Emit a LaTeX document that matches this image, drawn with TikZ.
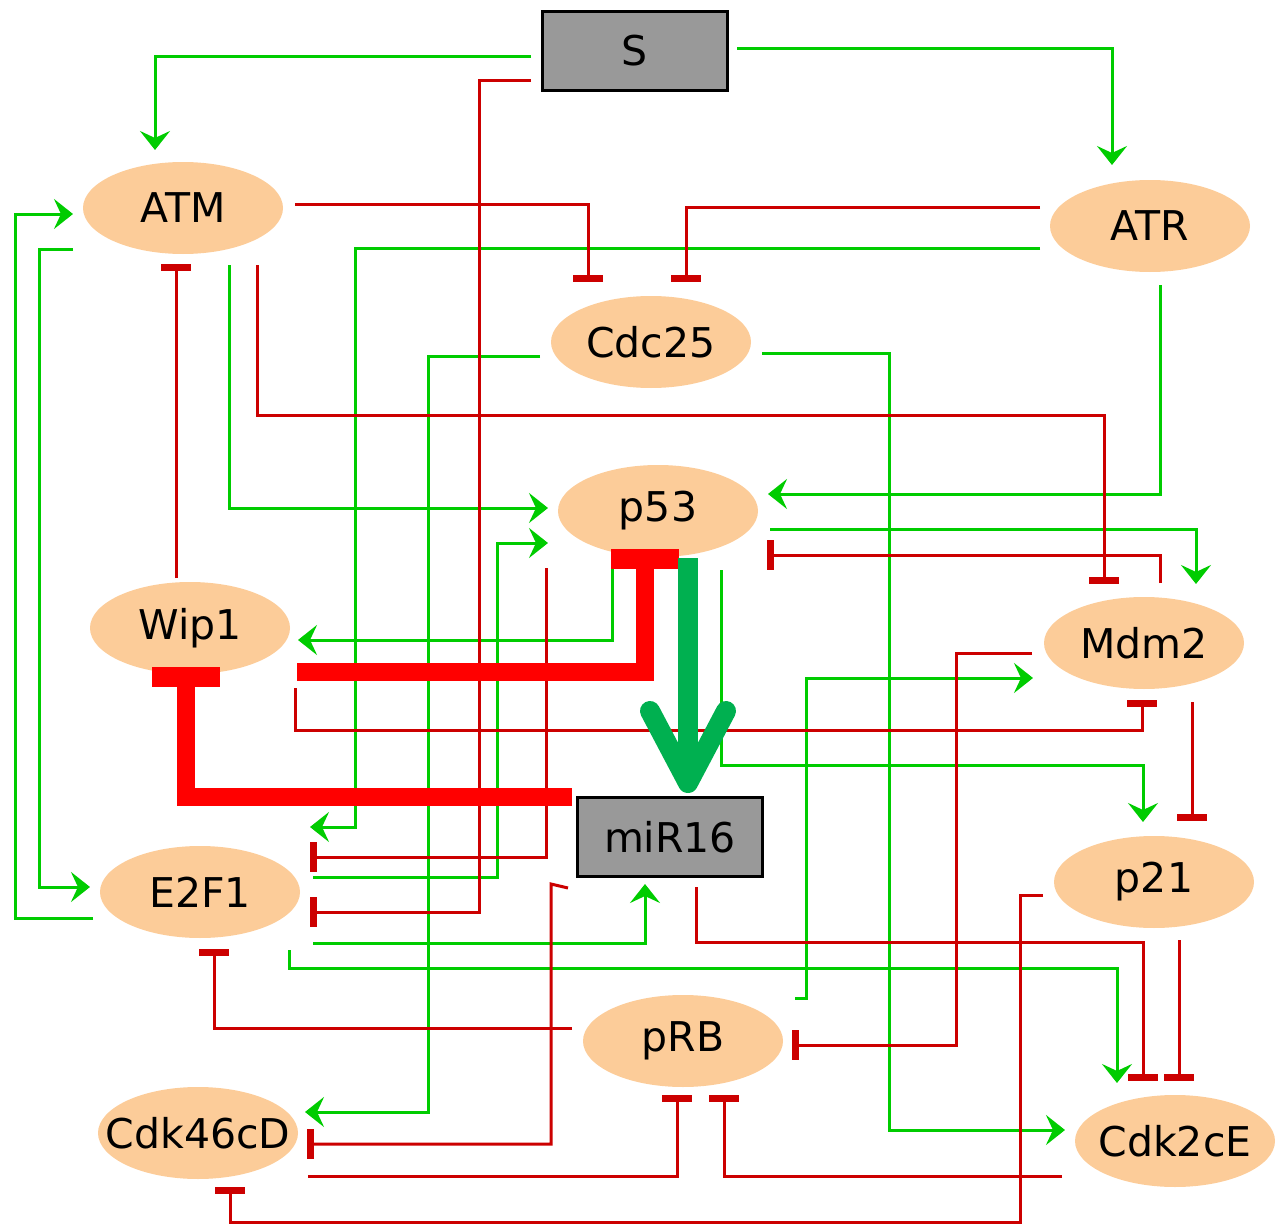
\documentclass[tikz,border=0pt]{standalone}
\usepackage{fontspec}
\setmainfont{DejaVu Sans}
\usetikzlibrary{arrows.meta,shapes.geometric}
\definecolor{peach}{RGB}{252,204,153}
\definecolor{boxgray}{RGB}{153,153,153}
\definecolor{actgreen}{RGB}{0,204,0}
\definecolor{inhred}{RGB}{204,0,0}
\definecolor{strongred}{RGB}{255,0,0}
\definecolor{stronggreen}{RGB}{0,176,80}
\begin{document}
\begin{tikzpicture}[x=0.5pt,y=-0.5pt,
  lbl/.style={font=\fontsize{20.5pt}{24pt}\selectfont},
  ell/.style={lbl, ellipse, fill=peach, minimum width=100pt, minimum height=46pt, inner sep=0pt},
  box/.style={lbl, rectangle, fill=boxgray, draw=black, line width=1.5pt, minimum width=92.5pt, minimum height=39.5pt, inner sep=0pt},
  act/.style={draw=actgreen, line width=1.5pt, -{Stealth[length=9.5pt,width=15pt,inset=3.5pt]}},
  inh/.style={draw=inhred, line width=1.5pt, -{Rectangle[length=3.5pt,width=15pt]}},
  stronginh/.style={draw=strongred, line width=9pt, line join=miter, -{Rectangle[length=10pt,width=34pt]}},
  strongact/.style={draw=stronggreen, line width=10pt, -{Straight Barb[length=36pt,width=38pt,line cap=round,line join=round]}}
]
\useasboundingbox (0,0) rectangle (1282,1226);
% nodes
\node[box] (S) at (635,51) {S};
\node[box] (miR16) at (670,837) {miR16};
\node[ell] (ATM) at (183,208) {ATM};
\node[ell] (ATR) at (1150,226) {ATR};
\node[ell] (Cdc25) at (651,342) {Cdc25};
\node[ell] (p53) at (658,511) {p53};
\node[ell] (Wip1) at (190,628) {Wip1};
\node[ell] (Mdm2) at (1144,643) {Mdm2};
\node[ell] (E2F1) at (200,892) {E2F1};
\node[ell] (p21) at (1154,882) {p21};
\node[ell] (pRB) at (683,1041) {pRB};
\node[ell] (Cdk46cD) at (198,1133) {\makebox[0pt]{Cdk46cD}};
\node[ell] (Cdk2cE) at (1175,1141) {\makebox[0pt]{Cdk2cE}};
% activating (green)
\draw[act] ([shift={(-104,5)}]S.center) -| ([shift={(-28,-58)}]ATM.center);
\draw[act] ([shift={(102,-3)}]S.center) -| ([shift={(-38,-61)}]ATR.center);
\draw[act] ([shift={(-110,22)}]ATR.center) -- (355,248) -- (355,827) -- ([shift={(110,-65)}]E2F1.center);
\draw[act] ([shift={(-111,14)}]Cdc25.center) -- (428,356) -- (428,1112) -- ([shift={(107,-21)}]Cdk46cD.center);
\draw[act] ([shift={(111,11)}]Cdc25.center) -- (889,353) -- (889,1130) -- ([shift={(-110,-11)}]Cdk2cE.center);
\draw[act] ([shift={(10,59)}]ATR.center) |- ([shift={(110,-17)}]p53.center);
\draw[act] ([shift={(46,57)}]ATM.center) |- ([shift={(-110,-3)}]p53.center);
\draw[act] ([shift={(113,-15)}]E2F1.center) -- (497,877) -- (497,543) -- ([shift={(-110,32)}]p53.center);
\draw[act] ([shift={(-46,54)}]p53.center) |- ([shift={(108,12)}]Wip1.center);
\draw[act] ([shift={(112,18)}]p53.center) -| ([shift={(52,-59)}]Mdm2.center);
\draw[act] ([shift={(63,59)}]p53.center) -- (721,765) -| ([shift={(-11,-60)}]p21.center);
\draw[act] ([shift={(112,-43)}]pRB.center) -- (806,998) -- (806,678) -- ([shift={(-111,35)}]Mdm2.center);
\draw[act] ([shift={(113,51)}]E2F1.center) -| ([shift={(-25,47)}]miR16.center);
\draw[act] ([shift={(89,58)}]E2F1.center) -- (289,968) -| ([shift={(-58,-58)}]Cdk2cE.center);
\draw[act] ([shift={(-107,26)}]E2F1.center) -- (15,918) |- ([shift={(-110,6)}]ATM.center);
\draw[act] ([shift={(-110,41)}]ATM.center) -- (39,249) |- ([shift={(-110,-5)}]E2F1.center);
% inhibiting (red)
\draw[inh] ([shift={(-104,29)}]S.center) -- (479,80) |- ([shift={(110,20)}]E2F1.center);
\draw[inh] ([shift={(112,-4)}]ATM.center) -| ([shift={(-63,-60)}]Cdc25.center);
\draw[inh] ([shift={(-110,-19)}]ATR.center) -| ([shift={(35,-60)}]Cdc25.center);
\draw[inh] ([shift={(74,57)}]ATM.center) -- (257,415) -| ([shift={(-40,-59)}]Mdm2.center);
\draw[inh] ([shift={(-14,-50)}]Wip1.center) -- ([shift={(-7,56)}]ATM.center);
\draw[inh] ([shift={(16,-60)}]Mdm2.center) |- ([shift={(109,44)}]p53.center);
\draw[inh] ([shift={(-112,10)}]Mdm2.center) -- (956,653) |- ([shift={(109,4)}]pRB.center);
\draw[inh] ([shift={(48,59)}]Mdm2.center) -- ([shift={(38,-61)}]p21.center);
\draw[inh] ([shift={(105,60)}]Wip1.center) -- (295,730) -| ([shift={(-2,57)}]Mdm2.center);
\draw[inh] ([shift={(-111,-13)}]pRB.center) -| ([shift={(14,57)}]E2F1.center);
\draw[inh] ([shift={(-102,51)}]miR16.center) -- (551,884) |- ([shift={(109,11)}]Cdk46cD.center);
\draw[inh] ([shift={(-112,57)}]p53.center) |- ([shift={(110,-35)}]E2F1.center);
\draw[inh] ([shift={(26,50)}]miR16.center) -- (696,942) -| ([shift={(-32,-60)}]Cdk2cE.center);
\draw[inh] ([shift={(25,58)}]p21.center) -- ([shift={(4,-60)}]Cdk2cE.center);
\draw[inh] ([shift={(-111,13)}]p21.center) -- (1020,895) -- (1020,1222) -| ([shift={(32,54)}]Cdk46cD.center);
\draw[inh] ([shift={(110,43)}]Cdk46cD.center) -| ([shift={(-6,54)}]pRB.center);
\draw[inh] ([shift={(-113,35)}]Cdk2cE.center) -| ([shift={(41,54)}]pRB.center);
% strong interactions
\draw[stronginh] ([shift={(107,44)}]Wip1.center) -| ([shift={(-13,38)}]p53.center);
\draw[stronginh] ([shift={(-98,-40)}]miR16.center) -| ([shift={(-4,39)}]Wip1.center);
\draw[strongact] ([shift={(30,47)}]p53.center) -- ([shift={(18,-44)}]miR16.center);
\end{tikzpicture}
\end{document}
